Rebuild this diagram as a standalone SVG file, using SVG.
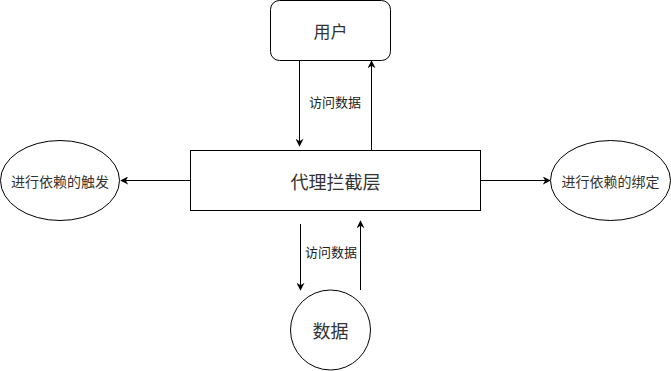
<svg xmlns="http://www.w3.org/2000/svg" width="671" height="371" viewBox="0 0 671 371">
<style>
.shape{fill:#ffffff;stroke:#000000;stroke-width:1}
.line{fill:none;stroke:#000000;stroke-width:1}
text{font-family:"Noto Sans CJK SC","Liberation Sans",sans-serif;fill:#333333;text-anchor:middle;dominant-baseline:central}
.lbl{font-size:13px;fill:#222222}
</style>
<defs>
<marker id="arr" viewBox="0 0 10 10" refX="9" refY="5" markerWidth="8" markerHeight="8" markerUnits="userSpaceOnUse" orient="auto">
<path d="M0,0 L10,5 L0,10 L3,5 Z" fill="#000000"/>
</marker>
</defs>
<rect width="671" height="371" fill="#ffffff"/>
<g id="connectors">
<line class="line" x1="299.5" y1="61" x2="299.5" y2="146" marker-end="url(#arr)"/>
<line class="line" x1="371.5" y1="150" x2="371.5" y2="61" marker-end="url(#arr)"/>
<text class="lbl" x="335" y="101">访问数据</text>
<line class="line" x1="190" y1="180.5" x2="121" y2="180.5" marker-end="url(#arr)"/>
<line class="line" x1="481" y1="180.5" x2="550" y2="180.5" marker-end="url(#arr)"/>
<line class="line" x1="300.5" y1="224" x2="300.5" y2="290" marker-end="url(#arr)"/>
<line class="line" x1="360.5" y1="290" x2="360.5" y2="221" marker-end="url(#arr)"/>
<text class="lbl" x="331" y="251">访问数据</text>
</g>
<g id="user">
<rect class="shape" x="270.5" y="0.5" width="120" height="60" rx="9" ry="9"/>
<text x="330.5" y="30.5" font-size="17">用户</text>
</g>
<g id="proxy">
<rect class="shape" x="190.5" y="150.5" width="290" height="60"/>
<text x="335.5" y="180.5" font-size="18">代理拦截层</text>
</g>
<g id="trigger">
<ellipse class="shape" cx="60" cy="180.5" rx="59.5" ry="40"/>
<text x="60" y="181" font-size="14">进行依赖的触发</text>
</g>
<g id="bind">
<ellipse class="shape" cx="610.5" cy="180.5" rx="60" ry="40"/>
<text x="610.5" y="181" font-size="14">进行依赖的绑定</text>
</g>
<g id="data">
<circle class="shape" cx="330.5" cy="330" r="40"/>
<text x="330.5" y="330" font-size="18">数据</text>
</g>
</svg>
